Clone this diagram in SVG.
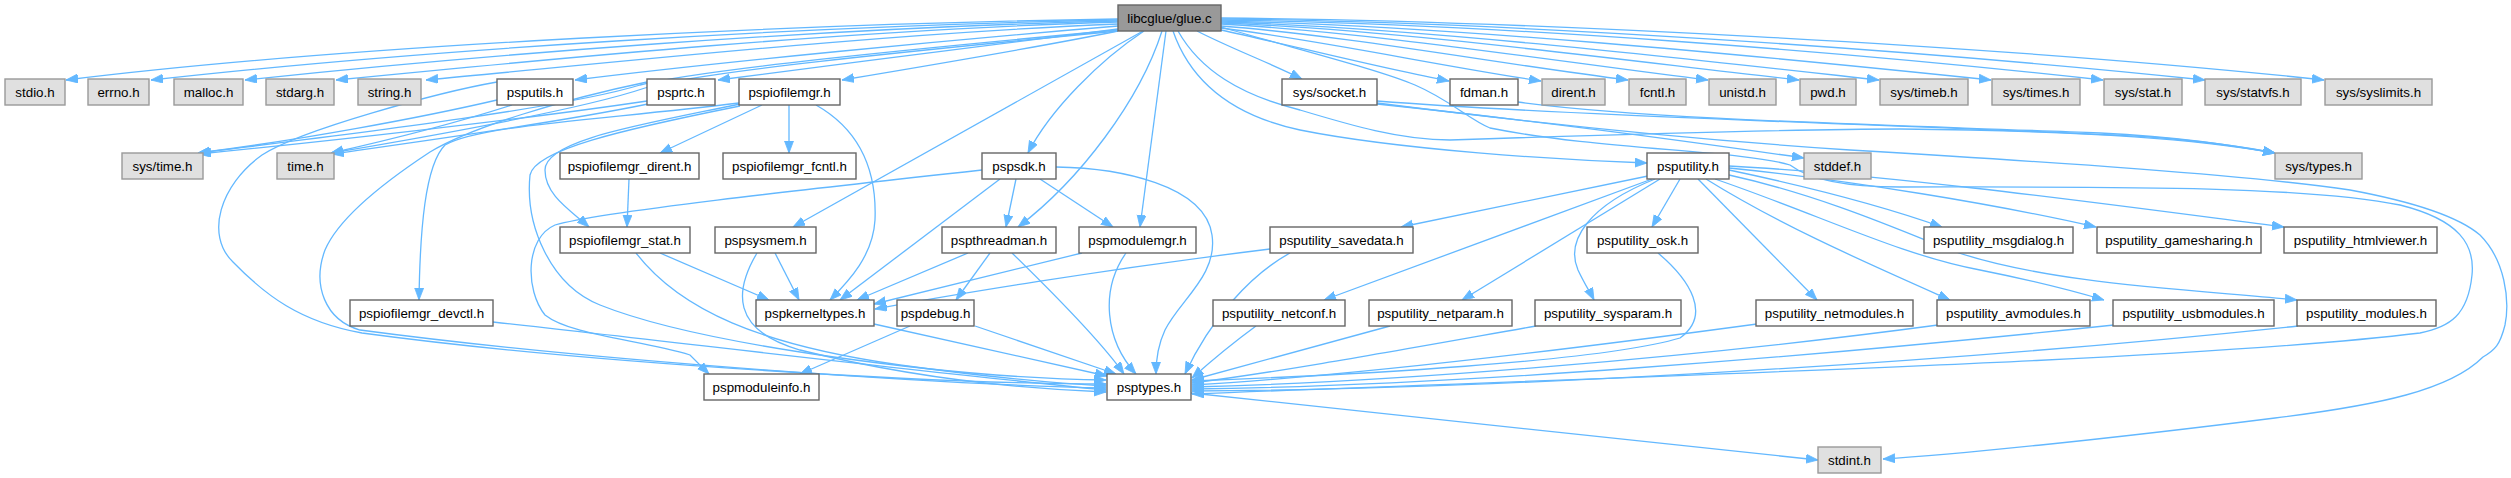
<svg xmlns="http://www.w3.org/2000/svg" width="2511" height="478" viewBox="0 0 2511 478">
<style>
.e{fill:none;stroke:#63b8ff;stroke-width:1.3;marker-end:url(#ah)}
.n rect{fill:#ffffff;stroke:#666666;stroke-width:1.4}
.g rect{fill:#e0e0e0;stroke:#999999;stroke-width:1.4}
.r rect{fill:#999999;stroke:#666666;stroke-width:1.4}
text{font-family:"Liberation Sans",Arial,Helvetica,sans-serif;font-size:13.33px;fill:#000;text-anchor:middle}
</style>
<defs>
<marker id="ah" markerUnits="userSpaceOnUse" markerWidth="13" markerHeight="10" refX="12" refY="4.5" orient="auto">
<path d="M0,0 L12,4.5 L0,9 Z" fill="#63b8ff" stroke="#63b8ff" stroke-width="0.8"/>
</marker>
</defs>
<rect width="2511" height="478" fill="#ffffff"/>
<g id="edges">
<path class="e" d="M1118,19 C800,24 350,45 66,80"/>
<path class="e" d="M1118,20 C800,26 420,50 151,80"/>
<path class="e" d="M1118,21 C820,28 480,55 245,80"/>
<path class="e" d="M1118,22 C850,30 560,58 336,80"/>
<path class="e" d="M1118,24 C880,34 640,60 426,80"/>
<path class="e" d="M1118,26 C950,40 720,62 575,80"/>
<path class="e" d="M1118,29 C1000,45 850,62 718,80"/>
<path class="e" d="M1118,31 C1050,45 950,62 842,80"/>
<path class="e" d="M1221,18 C1500,20 2000,45 2324,80"/>
<path class="e" d="M1221,19 C1500,22 1900,48 2205,80"/>
<path class="e" d="M1221,20 C1500,24 1850,52 2103,80"/>
<path class="e" d="M1221,21 C1450,26 1750,55 1991,80"/>
<path class="e" d="M1221,22 C1420,28 1680,58 1879,80"/>
<path class="e" d="M1221,23 C1400,30 1620,60 1799,80"/>
<path class="e" d="M1221,24 C1380,33 1560,62 1708,80"/>
<path class="e" d="M1221,26 C1350,36 1500,64 1628,80"/>
<path class="e" d="M1221,28 C1320,40 1440,66 1541,81"/>
<path class="e" d="M1221,30 C1290,45 1380,68 1449,81"/>
<path class="e" d="M1197,31 C1230,48 1270,63 1302,79"/>
<path class="e" d="M1143,31 L793,227"/>
<path class="e" d="M1144,31 C1100,60 1050,110 1028,153"/>
<path class="e" d="M1162,31 C1140,100 1080,180 1018,227"/>
<path class="e" d="M1166,31 L1140,227"/>
<path class="e" d="M1173,31 C1190,80 1230,115 1300,130 C1400,150 1560,160 1647,163"/>
<path class="e" d="M1178,31 C1200,70 1240,95 1300,110 C1350,125 1400,140 1450,140 C1600,135 1800,129 1900,129 C2100,131 2200,140 2275,153"/>
<path class="e" d="M1221,27 C1300,50 1380,70 1415,85 C1450,100 1470,120 1490,128 C1600,150 1740,150 1790,165 C1810,180 1850,187 1900,187 C2100,187 2300,185 2400,205 C2460,220 2475,245 2472,275 C2468,315 2450,327 2420,333 C2200,360 1700,374 1192,394"/>
<path class="e" d="M1118,30 C900,50 700,70 640,85 C560,110 300,140 198,153"/>
<path class="e" d="M1118,31 C900,52 700,72 645,88 C580,110 420,138 331,153"/>
<path class="e" d="M497,100 C420,118 300,140 198,153"/>
<path class="e" d="M512,105 C450,125 380,142 331,153"/>
<path class="e" d="M647,101 C520,120 320,142 199,154"/>
<path class="e" d="M648,104 C560,122 430,140 332,154"/>
<path class="e" d="M497,82 C440,92 300,130 262,155 C220,185 205,235 233,262 C265,295 300,322 362,333 C600,365 950,384 1106,384"/>
<path class="e" d="M647,82 C560,100 470,128 430,152 C395,175 340,215 325,250 C312,285 325,320 360,330 C600,362 950,385 1106,388"/>
<path class="e" d="M762,105 L660,153"/>
<path class="e" d="M789,105 L789,153"/>
<path class="e" d="M816,105 C860,130 877,170 875,220 C873,255 850,280 830,300"/>
<path class="e" d="M740,104 C640,125 545,140 545,170 C545,195 570,210 589,227"/>
<path class="e" d="M739,103 C600,120 480,125 445,145 C425,165 420,230 419,300"/>
<path class="e" d="M740,106 C620,130 535,150 530,175 C525,225 550,285 600,305 C700,345 950,378 1106,380"/>
<path class="e" d="M629,179 L627,227"/>
<path class="e" d="M660,253 L769,300"/>
<path class="e" d="M636,253 C680,310 760,345 900,365 C980,376 1050,383 1106,386"/>
<path class="e" d="M493,322 C700,345 950,375 1106,390"/>
<path class="e" d="M775,253 L799,300"/>
<path class="e" d="M757,253 C735,290 730,330 800,350 C900,375 1000,388 1106,392"/>
<path class="e" d="M1000,179 L840,300"/>
<path class="e" d="M1016,179 L1006,227"/>
<path class="e" d="M1040,179 L1113,227"/>
<path class="e" d="M1056,167 C1120,168 1205,185 1212,235 C1218,275 1180,300 1165,330 C1158,345 1156,360 1156,374"/>
<path class="e" d="M982,170 C800,190 600,212 555,225 C525,238 525,290 545,315 C570,335 640,340 690,355 L709,374"/>
<path class="e" d="M968,253 L857,300"/>
<path class="e" d="M990,253 L956,300"/>
<path class="e" d="M1012,253 C1050,290 1100,340 1124,374"/>
<path class="e" d="M1082,253 L874,304"/>
<path class="e" d="M1126,253 C1100,290 1105,340 1136,374"/>
<path class="e" d="M874,324 L1107,376"/>
<path class="e" d="M975,326 L1116,374"/>
<path class="e" d="M910,326 L800,374"/>
<path class="e" d="M1191,393 L1818,460"/>
<path class="e" d="M1377,101 C1600,118 2000,128 2150,137 C2200,141 2240,146 2275,153"/>
<path class="e" d="M1377,104 C1550,122 1700,143 1804,158"/>
<path class="e" d="M1377,103 C1550,125 1700,140 1850,150 C2050,162 2250,175 2350,190 C2420,203 2460,218 2480,235 C2505,260 2510,300 2505,325 C2500,345 2495,350 2483,357 C2450,390 2380,405 2275,418 C2100,440 1950,455 1883,459"/>
<path class="e" d="M1518,102 C1650,120 1900,125 2100,133 C2180,137 2230,145 2275,153"/>
<path class="e" d="M1648,176 L1401,227"/>
<path class="e" d="M1652,179 L1324,300"/>
<path class="e" d="M1660,179 L1462,300"/>
<path class="e" d="M1655,179 C1590,205 1565,240 1578,270 C1584,283 1590,292 1594,300"/>
<path class="e" d="M1680,179 L1652,227"/>
<path class="e" d="M1698,179 L1817,300"/>
<path class="e" d="M1706,179 C1780,225 1860,260 1950,300"/>
<path class="e" d="M1715,179 C1820,215 1900,255 1980,270 C2030,280 2070,290 2104,300"/>
<path class="e" d="M1729,175 C1820,195 1900,230 1950,250 C2050,285 2200,290 2297,300"/>
<path class="e" d="M1729,170 C1800,185 1880,205 1942,227"/>
<path class="e" d="M1729,168 C1850,180 2000,205 2096,227"/>
<path class="e" d="M1729,166 C1900,175 2150,210 2284,227"/>
<path class="e" d="M1270,249 C1100,270 950,295 875,309"/>
<path class="e" d="M1290,253 C1250,275 1210,320 1185,374"/>
<path class="e" d="M1658,253 C1690,280 1712,315 1680,338 C1600,362 1350,375 1192,381"/>
<path class="e" d="M1256,326 C1230,345 1210,362 1192,378"/>
<path class="e" d="M1390,326 L1192,380"/>
<path class="e" d="M1536,326 C1400,350 1280,372 1192,383"/>
<path class="e" d="M1757,324 C1550,352 1350,376 1192,385"/>
<path class="e" d="M1938,325 C1700,357 1400,382 1192,387"/>
<path class="e" d="M2114,325 C1800,358 1450,386 1192,389"/>
<path class="e" d="M2298,326 C1900,368 1450,390 1192,391"/>
</g>
<g id="glue_c" class="r"><rect x="1118" y="5" width="103" height="26"/><text x="1169.5" y="22.5">libcglue/glue.c</text></g>
<g id="stdio_h" class="g"><rect x="5" y="79" width="60" height="26"/><text x="35" y="96.5">stdio.h</text></g>
<g id="errno_h" class="g"><rect x="88" y="79" width="61" height="26"/><text x="118.5" y="96.5">errno.h</text></g>
<g id="malloc_h" class="g"><rect x="174" y="79" width="69" height="26"/><text x="208.5" y="96.5">malloc.h</text></g>
<g id="stdarg_h" class="g"><rect x="266" y="79" width="68" height="26"/><text x="300" y="96.5">stdarg.h</text></g>
<g id="string_h" class="g"><rect x="358" y="79" width="63" height="26"/><text x="389.5" y="96.5">string.h</text></g>
<g id="psputils_h" class="n"><rect x="497" y="79" width="76" height="26"/><text x="535" y="96.5">psputils.h</text></g>
<g id="psprtc_h" class="n"><rect x="647" y="79" width="68" height="26"/><text x="681" y="96.5">psprtc.h</text></g>
<g id="pspiofilemgr_h" class="n"><rect x="739" y="79" width="101" height="26"/><text x="789.5" y="96.5">pspiofilemgr.h</text></g>
<g id="sys_socket_h" class="n"><rect x="1282" y="79" width="95" height="26"/><text x="1329.5" y="96.5">sys/socket.h</text></g>
<g id="fdman_h" class="n"><rect x="1450" y="79" width="68" height="26"/><text x="1484" y="96.5">fdman.h</text></g>
<g id="dirent_h" class="g"><rect x="1542" y="79" width="63" height="26"/><text x="1573.5" y="96.5">dirent.h</text></g>
<g id="fcntl_h" class="g"><rect x="1629" y="79" width="57" height="26"/><text x="1657.5" y="96.5">fcntl.h</text></g>
<g id="unistd_h" class="g"><rect x="1709" y="79" width="67" height="26"/><text x="1742.5" y="96.5">unistd.h</text></g>
<g id="pwd_h" class="g"><rect x="1800" y="79" width="56" height="26"/><text x="1828" y="96.5">pwd.h</text></g>
<g id="sys_timeb_h" class="g"><rect x="1880" y="79" width="88" height="26"/><text x="1924" y="96.5">sys/timeb.h</text></g>
<g id="sys_times_h" class="g"><rect x="1992" y="79" width="88" height="26"/><text x="2036" y="96.5">sys/times.h</text></g>
<g id="sys_stat_h" class="g"><rect x="2104" y="79" width="78" height="26"/><text x="2143" y="96.5">sys/stat.h</text></g>
<g id="sys_statvfs_h" class="g"><rect x="2205" y="79" width="96" height="26"/><text x="2253" y="96.5">sys/statvfs.h</text></g>
<g id="sys_syslimits_h" class="g"><rect x="2325" y="79" width="107" height="26"/><text x="2378.5" y="96.5">sys/syslimits.h</text></g>
<g id="sys_time_h" class="g"><rect x="122" y="153" width="81" height="26"/><text x="162.5" y="170.5">sys/time.h</text></g>
<g id="time_h" class="g"><rect x="277" y="153" width="57" height="26"/><text x="305.5" y="170.5">time.h</text></g>
<g id="pspiofilemgr_dirent_h" class="n"><rect x="560" y="153" width="139" height="26"/><text x="629.5" y="170.5">pspiofilemgr_dirent.h</text></g>
<g id="pspiofilemgr_fcntl_h" class="n"><rect x="723" y="153" width="133" height="26"/><text x="789.5" y="170.5">pspiofilemgr_fcntl.h</text></g>
<g id="pspsdk_h" class="n"><rect x="982" y="153" width="74" height="26"/><text x="1019" y="170.5">pspsdk.h</text></g>
<g id="psputility_h" class="n"><rect x="1647" y="153" width="82" height="26"/><text x="1688" y="170.5">psputility.h</text></g>
<g id="stddef_h" class="g"><rect x="1804" y="153" width="67" height="26"/><text x="1837.5" y="170.5">stddef.h</text></g>
<g id="sys_types_h" class="g"><rect x="2275" y="153" width="87" height="26"/><text x="2318.5" y="170.5">sys/types.h</text></g>
<g id="pspiofilemgr_stat_h" class="n"><rect x="560" y="227" width="130" height="26"/><text x="625" y="244.5">pspiofilemgr_stat.h</text></g>
<g id="pspsysmem_h" class="n"><rect x="715" y="227" width="101" height="26"/><text x="765.5" y="244.5">pspsysmem.h</text></g>
<g id="pspthreadman_h" class="n"><rect x="942" y="227" width="114" height="26"/><text x="999" y="244.5">pspthreadman.h</text></g>
<g id="pspmodulemgr_h" class="n"><rect x="1079" y="227" width="117" height="26"/><text x="1137.5" y="244.5">pspmodulemgr.h</text></g>
<g id="psputility_savedata_h" class="n"><rect x="1270" y="227" width="143" height="26"/><text x="1341.5" y="244.5">psputility_savedata.h</text></g>
<g id="psputility_osk_h" class="n"><rect x="1587" y="227" width="111" height="26"/><text x="1642.5" y="244.5">psputility_osk.h</text></g>
<g id="psputility_msgdialog_h" class="n"><rect x="1924" y="227" width="149" height="26"/><text x="1998.5" y="244.5">psputility_msgdialog.h</text></g>
<g id="psputility_gamesharing_h" class="n"><rect x="2097" y="227" width="164" height="26"/><text x="2179" y="244.5">psputility_gamesharing.h</text></g>
<g id="psputility_htmlviewer_h" class="n"><rect x="2284" y="227" width="153" height="26"/><text x="2360.5" y="244.5">psputility_htmlviewer.h</text></g>
<g id="pspiofilemgr_devctl_h" class="n"><rect x="350" y="300" width="143" height="26"/><text x="421.5" y="317.5">pspiofilemgr_devctl.h</text></g>
<g id="pspkerneltypes_h" class="n"><rect x="756" y="300" width="118" height="26"/><text x="815" y="317.5">pspkerneltypes.h</text></g>
<g id="pspdebug_h" class="n"><rect x="897" y="300" width="77" height="26"/><text x="935.5" y="317.5">pspdebug.h</text></g>
<g id="psputility_netconf_h" class="n"><rect x="1213" y="300" width="132" height="26"/><text x="1279" y="317.5">psputility_netconf.h</text></g>
<g id="psputility_netparam_h" class="n"><rect x="1369" y="300" width="143" height="26"/><text x="1440.5" y="317.5">psputility_netparam.h</text></g>
<g id="psputility_sysparam_h" class="n"><rect x="1535" y="300" width="146" height="26"/><text x="1608" y="317.5">psputility_sysparam.h</text></g>
<g id="psputility_netmodules_h" class="n"><rect x="1756" y="300" width="157" height="26"/><text x="1834.5" y="317.5">psputility_netmodules.h</text></g>
<g id="psputility_avmodules_h" class="n"><rect x="1937" y="300" width="153" height="26"/><text x="2013.5" y="317.5">psputility_avmodules.h</text></g>
<g id="psputility_usbmodules_h" class="n"><rect x="2113" y="300" width="161" height="26"/><text x="2193.5" y="317.5">psputility_usbmodules.h</text></g>
<g id="psputility_modules_h" class="n"><rect x="2297" y="300" width="139" height="26"/><text x="2366.5" y="317.5">psputility_modules.h</text></g>
<g id="pspmoduleinfo_h" class="n"><rect x="704" y="374" width="115" height="26"/><text x="761.5" y="391.5">pspmoduleinfo.h</text></g>
<g id="psptypes_h" class="n"><rect x="1107" y="374" width="84" height="26"/><text x="1149" y="391.5">psptypes.h</text></g>
<g id="stdint_h" class="g"><rect x="1818" y="447" width="63" height="26"/><text x="1849.5" y="464.5">stdint.h</text></g>
</svg>
